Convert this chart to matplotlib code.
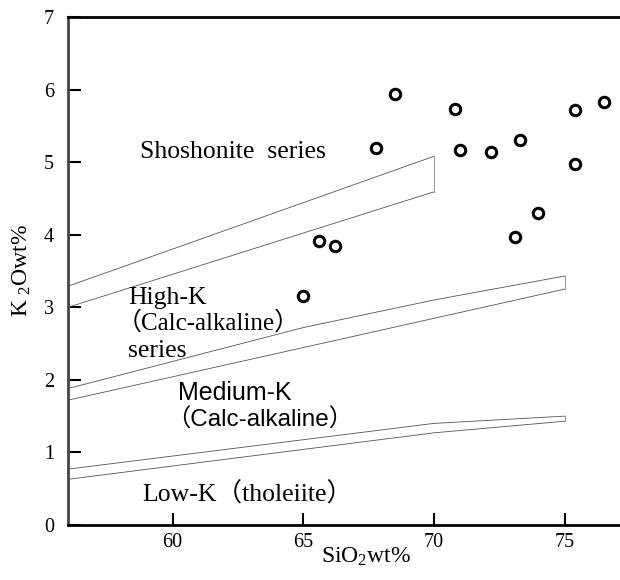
import matplotlib
matplotlib.use("Agg")
import matplotlib.pyplot as plt

plt.rcParams['font.family'] = ['Liberation Serif', 'Noto Sans CJK SC']
plt.rcParams['mathtext.default'] = 'regular'

# sample points
sio2 = [65.0, 65.6, 66.2, 67.8, 68.5, 70.8, 71.0, 72.2, 73.3, 73.1, 74.0, 75.4, 75.4, 76.5]
k2o = [3.15, 3.91, 3.84, 5.19, 5.94, 5.73, 5.17, 5.14, 5.30, 3.97, 4.30, 5.72, 4.97, 5.83]

# field boundaries (upper / lower edge of each band)
sho_up_x = [56, 70]
sho_up_y = [3.29, 5.08]
sho_lo_x = [56, 70]
sho_lo_y = [3.00, 4.59]

hk_up_x = [56, 65, 70, 75]
hk_up_y = [1.88, 2.72, 3.10, 3.43]
hk_lo_x = [56, 75]
hk_lo_y = [1.72, 3.25]

lk_up_x = [56, 70, 75]
lk_up_y = [0.77, 1.40, 1.50]
lk_lo_x = [56, 70, 75]
lk_lo_y = [0.63, 1.27, 1.43]

x_ticks = [60, 65, 70, 75]
y_ticks = [0, 1, 2, 3, 4, 5, 6, 7]

fig = plt.figure(figsize=(6.2, 5.8), dpi=100)
ax = fig.add_axes([0.1097, 0.0948, 0.961, 0.876])

line_kw = dict(color='#555555', lw=0.6)
for ux, uy, lx, ly in [(sho_up_x, sho_up_y, sho_lo_x, sho_lo_y),
                       (hk_up_x, hk_up_y, hk_lo_x, hk_lo_y),
                       (lk_up_x, lk_up_y, lk_lo_x, lk_lo_y)]:
    ax.plot(ux, uy, **line_kw)
    ax.plot(lx, ly, **line_kw)
    # close the band on its right end
    ax.plot([ux[-1], lx[-1]], [uy[-1], ly[-1]], color='#999999', lw=0.8)

ax.plot(sio2, k2o, 'o', ms=7.5, mfc='white', mec='black', mew=2.2, ls='none')

serif = ['Liberation Serif', 'Noto Sans CJK SC']
sans = ['Liberation Sans', 'Noto Sans CJK SC']
ax.text(58.76, 5.05, 'Shoshonite  series', fontsize=18.5, family=serif, va='baseline')
ax.text(58.3, 3.04, 'High-K', fontsize=18.5, family=serif, va='baseline')
ax.text(57.85, 2.69, '（Calc-alkaline）', fontsize=18, family=serif, va='baseline')
ax.text(58.3, 2.31, 'series', fontsize=18.5, family=serif, va='baseline')
ax.text(60.2, 1.72, 'Medium-K', fontsize=18, family=sans, va='baseline')
ax.text(59.75, 1.35, '（Calc-alkaline）', fontsize=17.5, family=sans, va='baseline')
ax.text(58.84, 0.33, 'Low-K（tholeiite）', fontsize=18.5, family=serif, va='baseline')

ax.set_xlim(56, 78.8)
ax.set_ylim(0, 7)
ax.set_xticks(x_ticks)
ax.set_yticks(y_ticks)
ax.tick_params(direction='in', length=9, width=1.5, labelsize=14.5, color='black')
ax.tick_params(axis='y', pad=10)
ax.tick_params(axis='x', pad=6)

ax.spines['right'].set_visible(False)
ax.spines['left'].set_color('#444444')
for s in ['left', 'top', 'bottom']:
    ax.spines[s].set_linewidth(2)

ax.set_xlabel('SiO$_2$wt%', fontsize=17)
ax.set_ylabel('K$_{\\ 2}$Owt%', fontsize=17)
ax.xaxis.set_label_coords(0.5, -0.04)
ax.xaxis.label.set_va('top')
ax.yaxis.set_label_coords(-0.058, 0.5)

fig.savefig('out.png', dpi=100)
